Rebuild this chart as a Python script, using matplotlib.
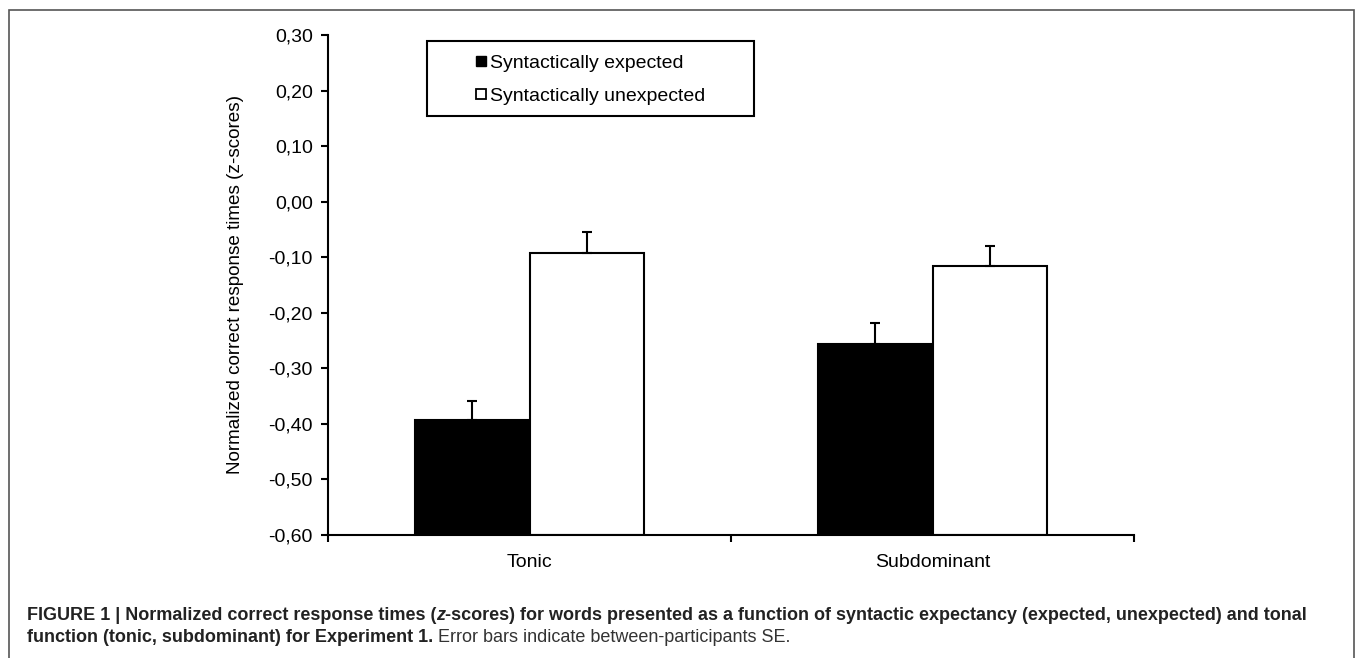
import numpy as np
import matplotlib
matplotlib.use("Agg")
import matplotlib.pyplot as plt
from matplotlib.patches import Rectangle
from matplotlib.lines import Line2D

plt.rcParams['font.family'] = ['Liberation Sans', 'DejaVu Sans']

# Data
categories = ["Tonic", "Subdominant"]
series_names = ["Syntactically expected", "Syntactically unexpected"]
expected = [-0.393, -0.256]
expected_se = [0.034, 0.037]
unexpected = [-0.093, -0.115]
unexpected_se = [0.038, 0.036]
yticks = [-0.60, -0.50, -0.40, -0.30, -0.20, -0.10, 0.00, 0.10, 0.20, 0.30]

W, H = 1355, 658
fig = plt.figure(figsize=(W / 100, H / 100), dpi=100)
ax = fig.add_axes([328 / W, 1 - 535 / H, 806 / W, 500 / H])

x = np.arange(len(categories))
bw = 0.285
base = -0.60  # bars start at the floor of the axis
ax.bar(x - bw / 2, np.array(expected) - base, bw, bottom=base, color='black',
       edgecolor='black', linewidth=1.5, zorder=2)
ax.bar(x + bw / 2, np.array(unexpected) - base, bw, bottom=base, color='white',
       edgecolor='black', linewidth=1.5, zorder=2)
ax.errorbar(x - bw / 2, expected, yerr=[np.zeros(2), expected_se], fmt='none',
            ecolor='black', elinewidth=1.5, capsize=3.5, capthick=1.5, zorder=3)
ax.errorbar(x + bw / 2, unexpected, yerr=[np.zeros(2), unexpected_se], fmt='none',
            ecolor='black', elinewidth=1.5, capsize=3.5, capthick=1.5, zorder=3)

ax.set_xlim(-0.5, 1.5)
ax.set_ylim(-0.60, 0.30)
ax.set_yticks(yticks)
ax.set_yticklabels([("%.2f" % v).replace('.', ',') for v in yticks])
ax.tick_params(axis='y', direction='out', length=5, width=1.5, pad=6, labelsize=14)

# ticks at category boundaries, labels at centres
ax.set_xticks([-0.5, 0.5, 1.5])
ax.set_xticklabels([])
ax.set_xticks(x, minor=True)
ax.set_xticklabels(categories, minor=True)
ax.tick_params(axis='x', which='major', direction='out', length=5, width=1.5)
ax.tick_params(axis='x', which='minor', length=0, pad=14, labelsize=14)

for s in ['top', 'right']:
    ax.spines[s].set_visible(False)
for s in ['left', 'bottom']:
    ax.spines[s].set_linewidth(1.5)

ax.set_ylabel("Normalized correct response times (z-scores)", fontsize=13.6)
ax.yaxis.set_label_coords(-0.104, 0.5)

# legend
handles = [Line2D([], [], ls='none', marker='s', markersize=7.2, markerfacecolor='black', markeredgecolor='black'),
           Line2D([], [], ls='none', marker='s', markersize=7.2, markerfacecolor='white',
                  markeredgecolor='black', markeredgewidth=1.3)]
fig.legend(handles, series_names, loc='upper left', bbox_to_anchor=(476 / W, 1 - 54 / H),
           frameon=False, fontsize=14, handlelength=0.5, handletextpad=0.2, labelspacing=0.8,
           borderaxespad=0, borderpad=0)
fig.add_artist(Rectangle((427 / W, 1 - 116 / H), 327 / W, 75 / H, transform=fig.transFigure,
                         fill=False, edgecolor='black', linewidth=1.5))

# outer frame
fig.add_artist(Rectangle((9 / W, -0.1), 1345 / W, 1.1 - 10 / H, transform=fig.transFigure,
                         fill=False, edgecolor='#555555', linewidth=1.2))

# caption
cap_font = ['Liberation Sans Narrow', 'Liberation Sans', 'DejaVu Sans']
fig.canvas.draw()
renderer = fig.canvas.get_renderer()


def caption_line(pieces, x0, y0):
    xpos = x0
    for txt, weight, style, color in pieces:
        t = fig.text(xpos, y0, txt, fontsize=13, fontweight=weight, fontstyle=style,
                     color=color, family=cap_font, va='center', ha='left')
        bb = t.get_window_extent(renderer=renderer)
        xpos += bb.width / W


caption_line([("FIGURE 1 | Normalized correct response times (", 'bold', 'normal', '#222222'),
              ("z", 'bold', 'italic', '#222222'),
              ("-scores) for words presented as a function of syntactic expectancy (expected, unexpected) and tonal",
               'bold', 'normal', '#222222')], 27 / W, 1 - 615 / H)
caption_line([("function (tonic, subdominant) for Experiment 1.", 'bold', 'normal', '#222222'),
              (" Error bars indicate between-participants SE.", 'normal', 'normal', '#333333')],
             27 / W, 1 - 638 / H)

fig.savefig("out.png", dpi=100)
